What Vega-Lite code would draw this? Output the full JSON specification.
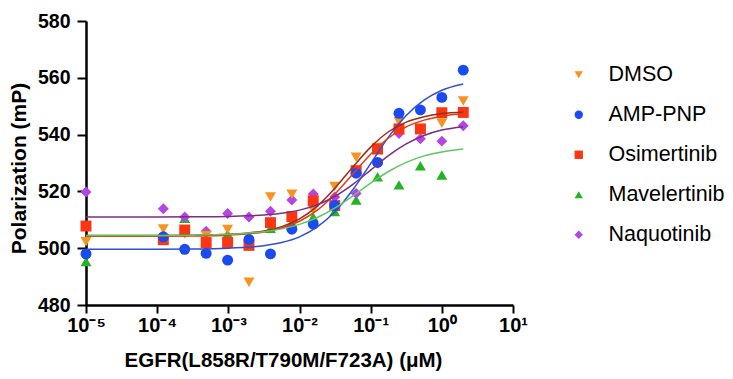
{
  "$schema": "https://vega.github.io/schema/vega-lite/v6.json",
  "width": 427,
  "height": 284,
  "autosize": "none",
  "padding": {"left": 86, "top": 21, "right": 220, "bottom": 74},
  "config": {"view": {"stroke": null}, "font": "Liberation Sans"},
  "datasets": {
    "points": [
      {"compound": "Mavelertinib", "conc": 0.00001, "mP": 495.3},
      {"compound": "Mavelertinib", "conc": 0.000122, "mP": 505},
      {"compound": "Mavelertinib", "conc": 0.000244, "mP": 510.5},
      {"compound": "Mavelertinib", "conc": 0.000488, "mP": 503},
      {"compound": "Mavelertinib", "conc": 0.000977, "mP": 505},
      {"compound": "Mavelertinib", "conc": 0.00195, "mP": 504},
      {"compound": "Mavelertinib", "conc": 0.00391, "mP": 507},
      {"compound": "Mavelertinib", "conc": 0.00781, "mP": 509},
      {"compound": "Mavelertinib", "conc": 0.0156, "mP": 511},
      {"compound": "Mavelertinib", "conc": 0.03125, "mP": 512.9},
      {"compound": "Mavelertinib", "conc": 0.0625, "mP": 517},
      {"compound": "Mavelertinib", "conc": 0.125, "mP": 525.2},
      {"compound": "Mavelertinib", "conc": 0.25, "mP": 522.3},
      {"compound": "Mavelertinib", "conc": 0.5, "mP": 529},
      {"compound": "Mavelertinib", "conc": 1, "mP": 525.8},
      {"compound": "Naquotinib", "conc": 0.00001, "mP": 519.8},
      {"compound": "Naquotinib", "conc": 0.000122, "mP": 513.9},
      {"compound": "Naquotinib", "conc": 0.000244, "mP": 511},
      {"compound": "Naquotinib", "conc": 0.000488, "mP": 506},
      {"compound": "Naquotinib", "conc": 0.000977, "mP": 512.2},
      {"compound": "Naquotinib", "conc": 0.00195, "mP": 511},
      {"compound": "Naquotinib", "conc": 0.00391, "mP": 513},
      {"compound": "Naquotinib", "conc": 0.00781, "mP": 517},
      {"compound": "Naquotinib", "conc": 0.0156, "mP": 519.1},
      {"compound": "Naquotinib", "conc": 0.03125, "mP": 518},
      {"compound": "Naquotinib", "conc": 0.0625, "mP": 519.3},
      {"compound": "Naquotinib", "conc": 0.125, "mP": 530},
      {"compound": "Naquotinib", "conc": 0.25, "mP": 540.4},
      {"compound": "Naquotinib", "conc": 0.5, "mP": 538.5},
      {"compound": "Naquotinib", "conc": 1, "mP": 537.7},
      {"compound": "Naquotinib", "conc": 2, "mP": 543.1},
      {"compound": "DMSO", "conc": 0.00001, "mP": 502.3},
      {"compound": "DMSO", "conc": 0.000122, "mP": 506.8},
      {"compound": "DMSO", "conc": 0.000244, "mP": 505},
      {"compound": "DMSO", "conc": 0.000488, "mP": 504.5},
      {"compound": "DMSO", "conc": 0.000977, "mP": 506.6},
      {"compound": "DMSO", "conc": 0.00195, "mP": 488},
      {"compound": "DMSO", "conc": 0.00391, "mP": 518},
      {"compound": "DMSO", "conc": 0.00781, "mP": 519},
      {"compound": "DMSO", "conc": 0.0156, "mP": 513.5},
      {"compound": "DMSO", "conc": 0.03125, "mP": 521.7},
      {"compound": "DMSO", "conc": 0.0625, "mP": 532},
      {"compound": "DMSO", "conc": 0.125, "mP": 535.5},
      {"compound": "DMSO", "conc": 0.25, "mP": 544.5},
      {"compound": "DMSO", "conc": 0.5, "mP": 542},
      {"compound": "DMSO", "conc": 1, "mP": 544},
      {"compound": "DMSO", "conc": 2, "mP": 551.8},
      {"compound": "Osimertinib", "conc": 0.00001, "mP": 507.8},
      {"compound": "Osimertinib", "conc": 0.000122, "mP": 503},
      {"compound": "Osimertinib", "conc": 0.000244, "mP": 506.4},
      {"compound": "Osimertinib", "conc": 0.000488, "mP": 502},
      {"compound": "Osimertinib", "conc": 0.000977, "mP": 502},
      {"compound": "Osimertinib", "conc": 0.00195, "mP": 501},
      {"compound": "Osimertinib", "conc": 0.00391, "mP": 509},
      {"compound": "Osimertinib", "conc": 0.00781, "mP": 511.1},
      {"compound": "Osimertinib", "conc": 0.0156, "mP": 516.7},
      {"compound": "Osimertinib", "conc": 0.03125, "mP": 515},
      {"compound": "Osimertinib", "conc": 0.0625, "mP": 527.3},
      {"compound": "Osimertinib", "conc": 0.125, "mP": 534.9},
      {"compound": "Osimertinib", "conc": 0.25, "mP": 542},
      {"compound": "Osimertinib", "conc": 0.5, "mP": 542},
      {"compound": "Osimertinib", "conc": 1, "mP": 547.7},
      {"compound": "Osimertinib", "conc": 2, "mP": 547.8},
      {"compound": "AMP-PNP", "conc": 0.00001, "mP": 498},
      {"compound": "AMP-PNP", "conc": 0.000122, "mP": 504},
      {"compound": "AMP-PNP", "conc": 0.000244, "mP": 499.6},
      {"compound": "AMP-PNP", "conc": 0.000488, "mP": 498.2},
      {"compound": "AMP-PNP", "conc": 0.000977, "mP": 495.8},
      {"compound": "AMP-PNP", "conc": 0.00195, "mP": 503.1},
      {"compound": "AMP-PNP", "conc": 0.00391, "mP": 498},
      {"compound": "AMP-PNP", "conc": 0.00781, "mP": 506.7},
      {"compound": "AMP-PNP", "conc": 0.0156, "mP": 508.5},
      {"compound": "AMP-PNP", "conc": 0.03125, "mP": 515},
      {"compound": "AMP-PNP", "conc": 0.0625, "mP": 526.4},
      {"compound": "AMP-PNP", "conc": 0.125, "mP": 530.2},
      {"compound": "AMP-PNP", "conc": 0.25, "mP": 547.5},
      {"compound": "AMP-PNP", "conc": 0.5, "mP": 548.7},
      {"compound": "AMP-PNP", "conc": 1, "mP": 553.1},
      {"compound": "AMP-PNP", "conc": 2, "mP": 562.7}
    ],
    "curves": [
      {"fit": "AMP-PNP", "conc": 0.00001, "mP": 499.6},
      {"fit": "AMP-PNP", "conc": 0.0001, "mP": 499.6},
      {"fit": "AMP-PNP", "conc": 0.000316, "mP": 499.7},
      {"fit": "AMP-PNP", "conc": 0.001, "mP": 500.0},
      {"fit": "AMP-PNP", "conc": 0.00178, "mP": 500.3},
      {"fit": "AMP-PNP", "conc": 0.00316, "mP": 500.9},
      {"fit": "AMP-PNP", "conc": 0.00562, "mP": 502.0},
      {"fit": "AMP-PNP", "conc": 0.01, "mP": 504.0},
      {"fit": "AMP-PNP", "conc": 0.0178, "mP": 507.5},
      {"fit": "AMP-PNP", "conc": 0.0316, "mP": 512.9},
      {"fit": "AMP-PNP", "conc": 0.0562, "mP": 520.6},
      {"fit": "AMP-PNP", "conc": 0.1, "mP": 529.8},
      {"fit": "AMP-PNP", "conc": 0.178, "mP": 539.1},
      {"fit": "AMP-PNP", "conc": 0.316, "mP": 546.7},
      {"fit": "AMP-PNP", "conc": 0.562, "mP": 552.1},
      {"fit": "AMP-PNP", "conc": 1, "mP": 555.6},
      {"fit": "AMP-PNP", "conc": 2, "mP": 557.8},
      {"fit": "Osimertinib", "conc": 0.00001, "mP": 504.2},
      {"fit": "Osimertinib", "conc": 0.0001, "mP": 504.2},
      {"fit": "Osimertinib", "conc": 0.000316, "mP": 504.3},
      {"fit": "Osimertinib", "conc": 0.001, "mP": 504.6},
      {"fit": "Osimertinib", "conc": 0.00178, "mP": 505.0},
      {"fit": "Osimertinib", "conc": 0.00316, "mP": 505.7},
      {"fit": "Osimertinib", "conc": 0.00562, "mP": 507.1},
      {"fit": "Osimertinib", "conc": 0.01, "mP": 509.5},
      {"fit": "Osimertinib", "conc": 0.0178, "mP": 513.4},
      {"fit": "Osimertinib", "conc": 0.0316, "mP": 519.1},
      {"fit": "Osimertinib", "conc": 0.0562, "mP": 526.1},
      {"fit": "Osimertinib", "conc": 0.1, "mP": 533.1},
      {"fit": "Osimertinib", "conc": 0.178, "mP": 538.8},
      {"fit": "Osimertinib", "conc": 0.316, "mP": 542.7},
      {"fit": "Osimertinib", "conc": 0.562, "mP": 545.1},
      {"fit": "Osimertinib", "conc": 1, "mP": 546.5},
      {"fit": "Osimertinib", "conc": 2, "mP": 547.3},
      {"fit": "DMSO", "conc": 0.00001, "mP": 504.5},
      {"fit": "DMSO", "conc": 0.0001, "mP": 504.5},
      {"fit": "DMSO", "conc": 0.000316, "mP": 504.6},
      {"fit": "DMSO", "conc": 0.001, "mP": 504.9},
      {"fit": "DMSO", "conc": 0.00178, "mP": 505.3},
      {"fit": "DMSO", "conc": 0.00316, "mP": 506.1},
      {"fit": "DMSO", "conc": 0.00562, "mP": 507.6},
      {"fit": "DMSO", "conc": 0.01, "mP": 510.3},
      {"fit": "DMSO", "conc": 0.0178, "mP": 514.8},
      {"fit": "DMSO", "conc": 0.0316, "mP": 521.2},
      {"fit": "DMSO", "conc": 0.0562, "mP": 528.6},
      {"fit": "DMSO", "conc": 0.1, "mP": 535.6},
      {"fit": "DMSO", "conc": 0.178, "mP": 541.0},
      {"fit": "DMSO", "conc": 0.316, "mP": 544.4},
      {"fit": "DMSO", "conc": 0.562, "mP": 546.3},
      {"fit": "DMSO", "conc": 1, "mP": 547.4},
      {"fit": "DMSO", "conc": 2, "mP": 548.0},
      {"fit": "Mavelertinib", "conc": 0.00001, "mP": 504.5},
      {"fit": "Mavelertinib", "conc": 0.0001, "mP": 504.5},
      {"fit": "Mavelertinib", "conc": 0.000316, "mP": 504.6},
      {"fit": "Mavelertinib", "conc": 0.001, "mP": 504.9},
      {"fit": "Mavelertinib", "conc": 0.00178, "mP": 505.3},
      {"fit": "Mavelertinib", "conc": 0.00316, "mP": 505.8},
      {"fit": "Mavelertinib", "conc": 0.00562, "mP": 506.8},
      {"fit": "Mavelertinib", "conc": 0.01, "mP": 508.4},
      {"fit": "Mavelertinib", "conc": 0.0178, "mP": 510.8},
      {"fit": "Mavelertinib", "conc": 0.0316, "mP": 514.2},
      {"fit": "Mavelertinib", "conc": 0.0562, "mP": 518.4},
      {"fit": "Mavelertinib", "conc": 0.1, "mP": 522.9},
      {"fit": "Mavelertinib", "conc": 0.178, "mP": 527.0},
      {"fit": "Mavelertinib", "conc": 0.316, "mP": 530.2},
      {"fit": "Mavelertinib", "conc": 0.562, "mP": 532.5},
      {"fit": "Mavelertinib", "conc": 1, "mP": 533.9},
      {"fit": "Mavelertinib", "conc": 2, "mP": 534.9},
      {"fit": "Naquotinib", "conc": 0.00001, "mP": 511.0},
      {"fit": "Naquotinib", "conc": 0.0001, "mP": 511.0},
      {"fit": "Naquotinib", "conc": 0.000316, "mP": 511.06},
      {"fit": "Naquotinib", "conc": 0.001, "mP": 511.2},
      {"fit": "Naquotinib", "conc": 0.00178, "mP": 511.4},
      {"fit": "Naquotinib", "conc": 0.00316, "mP": 511.7},
      {"fit": "Naquotinib", "conc": 0.00562, "mP": 512.3},
      {"fit": "Naquotinib", "conc": 0.01, "mP": 513.4},
      {"fit": "Naquotinib", "conc": 0.0178, "mP": 515.3},
      {"fit": "Naquotinib", "conc": 0.0316, "mP": 518.3},
      {"fit": "Naquotinib", "conc": 0.0562, "mP": 522.5},
      {"fit": "Naquotinib", "conc": 0.1, "mP": 527.5},
      {"fit": "Naquotinib", "conc": 0.178, "mP": 532.6},
      {"fit": "Naquotinib", "conc": 0.316, "mP": 536.7},
      {"fit": "Naquotinib", "conc": 0.562, "mP": 539.7},
      {"fit": "Naquotinib", "conc": 1, "mP": 541.6},
      {"fit": "Naquotinib", "conc": 2, "mP": 542.8}
    ]
  },
  "encoding": {
    "x": {
      "field": "conc",
      "type": "quantitative",
      "scale": {"type": "log", "domain": [0.00001, 10]},
      "axis": {
        "values": [0.00001, 0.0001, 0.001, 0.01, 0.1, 1, 10],
        "labelExpr": "datum.value < 0.00005 ? '10⁻⁵' : datum.value < 0.0005 ? '10⁻⁴' : datum.value < 0.005 ? '10⁻³' : datum.value < 0.05 ? '10⁻²' : datum.value < 0.5 ? '10⁻¹' : datum.value < 5 ? '10⁰' : '10¹'",
        "title": "EGFR(L858R/T790M/F723A) (μM)",
        "grid": false,
        "domainColor": "black",
        "domainWidth": 2.5,
        "tickColor": "black",
        "tickWidth": 2,
        "tickSize": 8,
        "labelFont": "Liberation Sans",
        "labelFontWeight": "bold",
        "labelFontSize": 20,
        "labelColor": "black",
        "labelPadding": 2,
        "labelFlush": false,
        "labelOverlap": false,
        "titleFont": "Liberation Sans",
        "titleFontSize": 20.5,
        "titleFontWeight": "bold",
        "titleColor": "black",
        "titlePadding": 15,
        "titleX": 197
      }
    },
    "y": {
      "field": "mP",
      "type": "quantitative",
      "scale": {"domain": [480, 580], "nice": false, "zero": false},
      "axis": {
        "values": [480, 500, 520, 540, 560, 580],
        "title": "Polarization (mP)",
        "grid": false,
        "domainColor": "black",
        "domainWidth": 2.5,
        "tickColor": "black",
        "tickWidth": 2,
        "tickSize": 9,
        "labelFont": "Liberation Sans",
        "labelFontWeight": "bold",
        "labelFontSize": 19.5,
        "labelColor": "black",
        "labelPadding": 7,
        "titleFont": "Liberation Sans",
        "titleFontSize": 21,
        "titleFontWeight": "bold",
        "titleColor": "black",
        "titlePadding": 8,
        "titleY": 147
      }
    }
  },
  "layer": [
    {
      "data": {"name": "points"},
      "mark": {"type": "point", "filled": true, "opacity": 1, "size": 120},
      "encoding": {
        "color": {
          "field": "compound",
          "type": "nominal",
          "scale": {
            "domain": ["DMSO", "AMP-PNP", "Osimertinib", "Mavelertinib", "Naquotinib"],
            "range": ["#f7931e", "#1a4af2", "#fc3612", "#25b325", "#b444e6"]
          },
          "legend": {
            "title": null,
            "orient": "none",
            "legendX": 482,
            "legendY": 43,
            "labelFont": "Liberation Sans",
            "labelFontSize": 21.5,
            "labelColor": "black",
            "symbolSize": 70,
            "symbolStrokeWidth": 0,
            "labelOffset": 19,
            "rowPadding": 17
          }
        },
        "shape": {
          "field": "compound",
          "type": "nominal",
          "scale": {
            "domain": ["DMSO", "AMP-PNP", "Osimertinib", "Mavelertinib", "Naquotinib"],
            "range": ["triangle-down", "circle", "square", "triangle-up", "diamond"]
          }
        }
      }
    },
    {
      "data": {"name": "curves"},
      "mark": {"type": "line", "interpolate": "monotone", "strokeWidth": 1.5},
      "encoding": {
        "stroke": {
          "field": "fit",
          "type": "nominal",
          "scale": {
            "domain": ["DMSO", "AMP-PNP", "Osimertinib", "Mavelertinib", "Naquotinib"],
            "range": ["#9e2c12", "#2f4fd6", "#e8381a", "#5fc85f", "#7b2e84"]
          },
          "legend": null
        }
      }
    }
  ]
}
